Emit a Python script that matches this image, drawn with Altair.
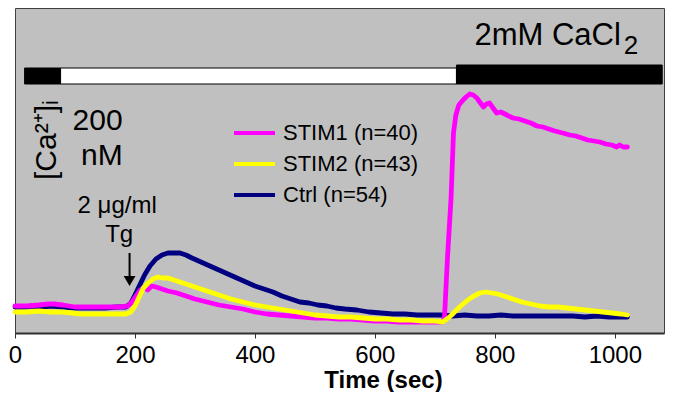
import altair as alt
import pandas as pd

FONT = "Liberation Sans, Arial, sans-serif"

# ---- series: time (sec) and [Ca2+]i (display units) ----
series_names = ["STIM1 (n=40)", "STIM2 (n=43)", "\u00a0Ctrl (n=54)"]
series_colors = ["#FF00FF", "#FFFF00", "#000080"]

ctrl_t = [0, 15, 30, 45, 60, 80, 100, 125, 150, 170, 185, 193, 200, 208, 216, 225, 235, 245, 255, 265,
          275, 285, 295, 310, 325, 340, 355, 370, 385, 400, 415, 430, 445, 460, 475, 490, 505, 520, 535, 550,
          570, 590, 610, 630, 650, 670, 690, 710, 730, 750, 770, 790, 810, 830, 850, 870, 890, 910, 930, 950,
          970, 990, 1005, 1021]
ctrl_v = [26, 26, 27, 26, 27, 26, 25, 25, 25, 26, 26, 30, 38, 48, 58, 67, 74, 78, 80, 80,
          80, 78, 75, 71, 67, 63, 59, 55, 51, 47, 44, 41, 37, 34, 31, 30, 28, 27, 25, 24,
          23, 21, 20, 19, 19, 18, 18, 18, 17, 18, 17, 17, 18, 17, 17, 17, 17, 17, 17, 16,
          17, 16, 16, 16]

stim2_t = [0, 20, 40, 60, 80, 95, 110, 130, 150, 170, 185, 193, 200, 207, 214, 222, 230, 238, 246, 255,
           265, 280, 300, 320, 340, 360, 380, 400, 420, 440, 460, 480, 500, 520, 540, 560, 580, 600, 620, 640,
           660, 680, 700, 713, 720, 728, 736, 745, 755, 765, 775, 785, 795, 805, 815, 830, 845, 860, 875, 890,
           905, 920, 935, 950, 965, 980, 995, 1010, 1021]
stim2_v = [21, 21, 22, 21, 21, 20, 19, 19, 19, 19, 19, 21, 27, 36, 45, 50, 54, 56, 55, 55,
           53, 50, 46, 42, 38, 34, 31, 28, 26, 24, 22, 20, 18, 17, 16, 16, 15, 14, 14, 13,
           13, 12, 12, 11, 14, 18, 23, 28, 33, 37, 40, 41, 40, 39, 37, 34, 31, 29, 27, 26,
           26, 25, 24, 23, 22, 21, 20, 19, 18]

stim1_t = [0, 20, 40, 55, 65, 80, 100, 120, 140, 160, 175, 188, 195, 202, 209, 215, 221, 228, 235, 245,
           255, 270, 285, 300, 320, 340, 360, 380, 400, 420, 440, 460, 480, 500, 520, 540, 560, 580, 600, 620,
           640, 660, 680, 700, 713, 716, 721, 727, 731, 735, 740, 747, 752, 758, 764, 770, 776, 781, 786, 791,
           797, 803, 810, 820, 830, 840, 850, 860, 870, 880, 890, 900, 913, 925, 935, 945, 955, 965, 975, 985,
           995, 1003, 1008, 1014, 1021]
stim1_v = [27, 27, 28, 29, 29, 28, 26, 26, 26, 26, 26, 27, 31, 37, 43, 46, 43, 47, 46, 44,
           42, 40, 37, 34, 31, 28, 26, 24, 21, 19, 18, 17, 16, 15, 15, 14, 14, 13, 12, 12,
           11, 11, 11, 11, 11, 15, 75, 135, 200, 218, 228, 233, 236, 239, 238, 235, 230, 226, 229, 230,
           225, 220, 221, 218, 215, 214, 212, 210, 207, 206, 204, 202, 200, 198, 197, 195, 193, 192, 191, 189,
           188, 186, 188, 186, 186]

# condition bar (start sec, end sec, fill, bottom, top)
cond_start = [16, 76, 736]
cond_end = [76, 736, 1079]
cond_fill = ["black", "white", "black"]
cond_lo = [249, 249, 249]
cond_hi = [265, 265, 268]

x_ticks = [0, 200, 400, 600, 800, 1000]

rows = []
for name, ts, vs in [(series_names[2], ctrl_t, ctrl_v),
                     (series_names[0], stim1_t, stim1_v),
                     (series_names[1], stim2_t, stim2_v)]:
    for t, v in zip(ts, vs):
        rows.append({"series": name, "t": t, "v": v})
df = pd.DataFrame(rows)

xscale = alt.Scale(domain=[0, 1082], nice=False, zero=False)
yscale = alt.Scale(domain=[0, 325], nice=False, zero=False)
X = alt.X("t:Q", scale=xscale, title="Time (sec)",
          axis=alt.Axis(values=x_ticks, format="d", grid=False, labelFontSize=24, labelFont=FONT,
                        labelColor="black", labelPadding=5, labelFlush=False,
                        tickSize=5, tickColor="#303030", domainColor="#303030", domainWidth=2,
                        title="Time (sec)", titleFont=FONT, titleFontSize=24,
                        titleFontWeight="bold", titleColor="black",
                        titleX=368, titleY=35, titleAlign="center", titleBaseline="top"))
Y = alt.Y("v:Q", scale=yscale, axis=None)

legend = alt.Legend(orient="none", legendX=217, legendY=114, title=None,
                    symbolType="stroke", symbolSize=1681, symbolStrokeWidth=4,
                    labelFontSize=22, labelFont=FONT, labelColor="black",
                    clipHeight=22, rowPadding=9, labelOffset=6, padding=0)
color = alt.Color("series:N", scale=alt.Scale(domain=series_names, range=series_colors), legend=legend)

layers = []

cond_df = pd.DataFrame({"t": cond_start, "t2": cond_end, "fill": cond_fill, "v": cond_lo, "v2": cond_hi})
layers.append(alt.Chart(cond_df).mark_rect(stroke="black", strokeWidth=1).encode(
    x=X, x2="t2:Q", y=Y, y2="v2:Q",
    fill=alt.Fill("fill:N", scale=None)))

for name in [series_names[2], series_names[0], series_names[1]]:
    layers.append(alt.Chart(df).transform_filter(alt.datum.series == name).mark_line(
        strokeWidth=4.8, strokeJoin="round", strokeCap="round").encode(x=X, y=Y, color=color))


def label(text, t, v, size, angle=0, align="left"):
    return alt.Chart(pd.DataFrame({"t": [t], "v": [v], "s": [text]})).mark_text(
        align=align, baseline="alphabetic", fontSize=size, angle=angle, font=FONT, color="black"
    ).encode(x=X, y=Y, text="s:N")


layers += [
    label("2mM CaCl", 766, 288, 31),
    label("2", 1015, 279, 26),
    label("200", 179.5, 203, 30, align="right"),
    label("nM", 179.5, 168, 30, align="right"),
    label("[Ca\u00b2\u207a]\u1d62", 68, 153, 30, angle=270),
    label("2 \u03bcg/ml", 170.3, 120, 24, align="center"),
    label("Tg", 173.7, 91, 24, align="center"),
]

arrow_df = pd.DataFrame({"t": [191], "v": [80], "v2": [56]})
layers.append(alt.Chart(arrow_df).mark_rule(color="black", strokeWidth=2).encode(x=X, y=Y, y2="v2:Q"))
head_df = pd.DataFrame({"t": [191], "v": [52]})
layers.append(alt.Chart(head_df).mark_point(shape="triangle-down", filled=True, size=140,
                                            color="black", opacity=1).encode(x=X, y=Y))

chart = alt.layer(*layers).properties(
    width=649, height=325,
    autosize=alt.AutoSizeParams(type="none"),
    padding={"left": 7, "top": 0, "right": 2, "bottom": 59},
    background="white",
).configure_view(fill="#C0C0C0", stroke="#404040", strokeWidth=1)

chart.save("out.html", embed_options={"renderer": "svg", "actions": False})
